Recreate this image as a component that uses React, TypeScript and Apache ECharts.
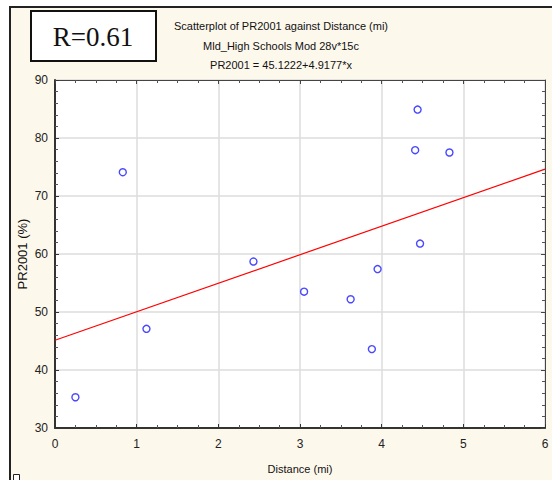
import React, { useEffect, useRef } from "react";
import * as echarts from "echarts";

const distance = [0.25, 0.83, 1.12, 2.43, 3.05, 3.62, 3.88, 3.95, 4.44, 4.41, 4.83, 4.47];
const pr2001 = [35.3, 74.1, 47.1, 58.7, 53.5, 52.2, 43.6, 57.4, 84.9, 77.9, 77.5, 61.8];
const intercept = 45.1222;
const slope = 4.9177;
const fitX = [0, 6];
const titleLines = [
  "Scatterplot of PR2001 against Distance (mi)",
  "Mld_High Schools Mod 28v*15c",
  "PR2001 = 45.1222+4.9177*x",
];
const rLabel = "R=0.61";

export default function App() {
  const ref = useRef<HTMLDivElement>(null);
  useEffect(() => {
    if (!ref.current) return;
    const chart = echarts.init(ref.current, null, { renderer: "svg" });
    const font = "Liberation Sans, Arial, sans-serif";
    const pts = distance.map((x, i) => [x, pr2001[i]]);
    const fit = fitX.map((x) => [x, intercept + slope * x]);
    chart.setOption({
      animation: false,
      backgroundColor: "#ffffff",
      textStyle: { fontFamily: font },
      graphic: [
        {
          type: "rect",
          z: -10,
          shape: { x: 10, y: 7, width: 560, height: 490 },
          style: { fill: "#fdf8ec", stroke: "#222", lineWidth: 2 },
          silent: true,
        },
        {
          type: "rect",
          shape: { x: 31, y: 11, width: 125, height: 50 },
          style: { fill: "#ffffff", stroke: "#111", lineWidth: 2 },
        },
        {
          type: "text",
          x: 93,
          y: 37,
          style: {
            text: rLabel,
            fontFamily: "Liberation Serif, Times New Roman, serif",
            fontSize: 27,
            fill: "#111",
            align: "center",
            verticalAlign: "middle",
          },
        },
        ...titleLines.map((t, i) => ({
          type: "text",
          x: 281,
          y: 26 + i * 19.5,
          style: {
            text: t,
            fontFamily: font,
            fontSize: 11,
            fill: "#111",
            align: "center",
            verticalAlign: "middle",
          },
        })),
        {
          type: "rect",
          shape: { x: 13.5, y: 474.5, width: 6, height: 7 },
          style: { fill: "#ffffff", stroke: "#222", lineWidth: 1 },
        },
      ],
      grid: {
        left: 55,
        right: 7,
        top: 80,
        bottom: 52,
        show: true,
        backgroundColor: "#ffffff",
        borderWidth: 0,
      },
      xAxis: [
        {
          type: "value",
          min: 0,
          max: 6,
          interval: 1,
          name: "Distance (mi)",
          nameLocation: "middle",
          nameGap: 35,
          nameTextStyle: { fontSize: 11, color: "#111" },
          axisLine: { onZero: false, lineStyle: { color: "#333", width: 2 } },
          axisTick: { inside: true, length: 4, lineStyle: { color: "#333" } },
          minorTick: { show: true, splitNumber: 4, length: 3, lineStyle: { color: "#555" } },
          axisLabel: { fontSize: 12, color: "#222", margin: 10 },
          splitLine: { show: true, lineStyle: { color: "#dcdcdc", width: 1.5 } },
        },
        {
          type: "value",
          position: "top",
          min: 0,
          max: 6,
          interval: 1,
          axisLine: { onZero: false, lineStyle: { color: "#444", width: 1 } },
          axisTick: { inside: true, length: 4, lineStyle: { color: "#444" } },
          minorTick: { show: true, splitNumber: 4, length: 3, lineStyle: { color: "#555" } },
          axisLabel: { show: false },
          splitLine: { show: false },
        },
      ],
      yAxis: [
        {
          type: "value",
          min: 30,
          max: 90,
          interval: 10,
          name: "PR2001 (%)",
          nameLocation: "middle",
          nameGap: 26,
          nameMoveOverlap: false,
          nameRotate: 90,
          nameTextStyle: { fontSize: 13, color: "#111" },
          axisLine: { show: true, onZero: false, lineStyle: { color: "#333", width: 2 } },
          axisTick: { show: true, inside: true, length: 4, lineStyle: { color: "#333" } },
          minorTick: { show: true, splitNumber: 5, length: 3, lineStyle: { color: "#555" } },
          axisLabel: { fontSize: 12, color: "#222", margin: 7 },
          splitLine: { show: true, lineStyle: { color: "#dcdcdc", width: 1.5 } },
        },
        {
          type: "value",
          position: "right",
          min: 30,
          max: 90,
          interval: 10,
          axisLine: { show: true, onZero: false, lineStyle: { color: "#444", width: 1 } },
          axisTick: { show: true, inside: true, length: 4, lineStyle: { color: "#444" } },
          minorTick: { show: true, splitNumber: 5, length: 3, lineStyle: { color: "#555" } },
          axisLabel: { show: false },
          splitLine: { show: false },
        },
      ],
      series: [
        {
          type: "line",
          data: fit,
          showSymbol: false,
          symbol: "none",
          lineStyle: { color: "#ff0000", width: 1.2 },
          silent: true,
          z: 2,
        },
        {
          type: "scatter",
          data: pts,
          symbol: "circle",
          symbolSize: 7,
          itemStyle: { color: "#ffffff", borderColor: "#1a1aff", borderWidth: 1.4 },
          z: 3,
        },
      ],
    });
    return () => chart.dispose();
  }, []);
  return (
    <div
      ref={ref}
      style={{ position: "fixed", left: 0, top: 0, width: 552, height: 480 }}
    />
  );
}
